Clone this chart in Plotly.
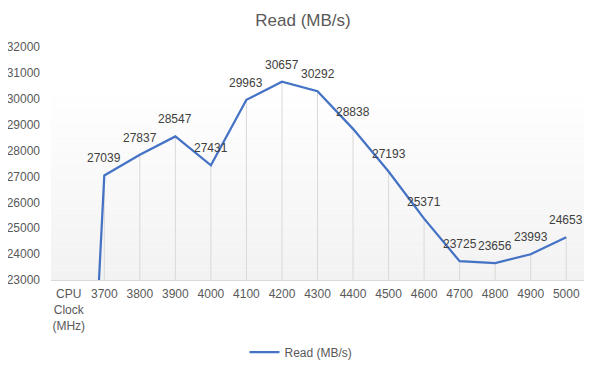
import plotly.graph_objects as go

categories = ["CPU<br>Clock<br>(MHz)", "3700", "3800", "3900", "4000", "4100", "4200",
              "4300", "4400", "4500", "4600", "4700", "4800", "4900", "5000"]
read_mbs = [0, 27039, 27837, 28547, 27431, 29963, 30657, 30292, 28838,
            27193, 25371, 23725, 23656, 23993, 24653]
y_ticks = [23000, 24000, 25000, 26000, 27000, 28000, 29000, 30000, 31000, 32000]

FONT = "Liberation Sans"
Y_MIN, Y_MAX = 23000, 32000

fig = go.Figure()

# drop lines
dx, dy = [], []
for i, v in enumerate(read_mbs):
    if i == 0:
        continue
    dx += [i, i, None]
    dy += [Y_MIN, v, None]
fig.add_trace(go.Scatter(x=dx, y=dy, mode="lines", line=dict(color="#d9d9d9", width=1),
                         hoverinfo="skip", showlegend=False))

fig.add_trace(go.Scatter(x=list(range(len(categories))), y=read_mbs, mode="lines",
                         name="Read (MB/s)", line=dict(color="#4472c4", width=2.25)))

annotations = []
for i, v in enumerate(read_mbs):
    if i == 0:
        continue
    annotations.append(dict(x=i, y=v, xref="x", yref="y", text=str(v), showarrow=False,
                            yshift=17, font=dict(family=FONT, size=12, color="#404040")))

# gradient background in plot area
shapes = []
n = 40
top = 0.82
for i in range(n):
    t = i / n
    g = int(round(242 + (255 - 242) * t))
    col = f"rgb({g},{g},{g})"
    shapes.append(dict(type="rect", xref="paper", yref="paper", x0=0, x1=1,
                       y0=top * i / n, y1=top * (i + 1) / n, fillcolor=col,
                       line=dict(width=0), layer="below"))

W, H = 590, 362  # page body has an 8px margin
fig.update_layout(
    width=W, height=H,
    margin=dict(l=43, r=14, t=39, b=89.5),
    paper_bgcolor="white", plot_bgcolor="white",
    title=dict(text="Read (MB/s)", x=0.5, xanchor="center", y=1 - 12 / H, yanchor="middle",
               font=dict(family=FONT, size=17, color="#595959")),
    xaxis=dict(tickmode="array", tickvals=list(range(len(categories))), ticktext=categories,
               range=[-0.5, 14.5], showgrid=False, zeroline=False, automargin=False,
               showline=True, linecolor="#d9d9d9", linewidth=1, ticks="",
               ticklabelstandoff=3,
               tickfont=dict(family=FONT, size=12, color="#595959")),
    yaxis=dict(range=[Y_MIN, Y_MAX], tickvals=y_ticks, showgrid=False, zeroline=False,
               showline=False, ticks="", tickformat="d", automargin=False, ticklabelstandoff=10,
               tickfont=dict(family=FONT, size=12, color="#595959")),
    legend=dict(orientation="h", x=0.469, xanchor="center", yref="container",
                y=1 - 344 / H, yanchor="middle", itemwidth=30,
                font=dict(family=FONT, size=12, color="#595959")),
    showlegend=True,
    annotations=annotations,
    shapes=shapes,
)

fig.write_html("out.html")
